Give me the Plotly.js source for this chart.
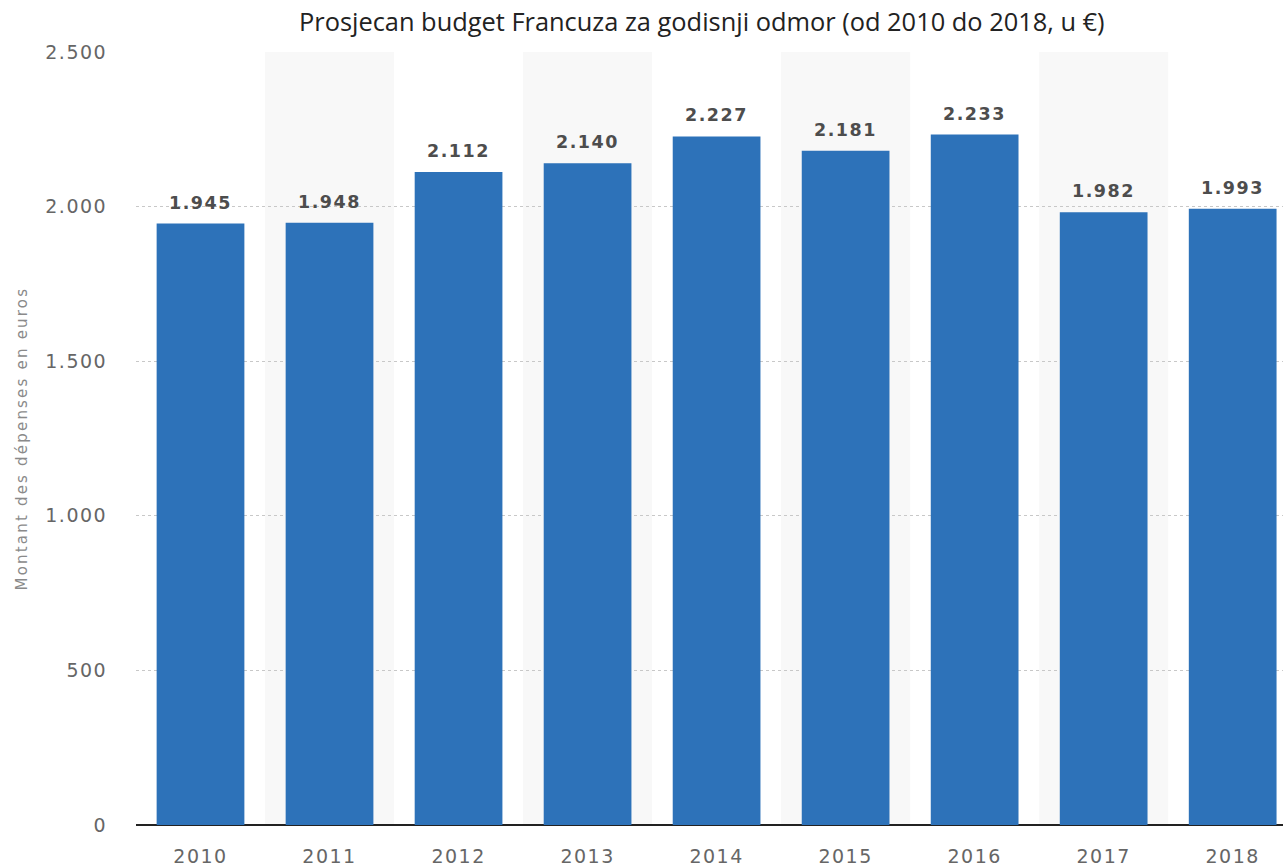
<!DOCTYPE html>
<html>
<head>
<meta charset="utf-8">
<script src="https://cdn.plot.ly/plotly-3.0.1.min.js"></script>
<style>
html,body{margin:0;padding:0;background:#fff;}
#chart{width:1283px;height:868px;}
.xtick text, .ytick text{letter-spacing:1.5px;}
text.annotation-text{letter-spacing:1.5px;}
text.annotation-text[data-unformatted^="Montant"]{letter-spacing:2.2px;}
</style>
</head>
<body>
<div id="chart"></div>
<script>
const years = ['2010','2011','2012','2013','2014','2015','2016','2017','2018'];
const budget = [1945, 1948, 2112, 2140, 2227, 2181, 2233, 1982, 1993];
const chartTitle = 'Prosjecan budget Francuza za godisnji odmor (od 2010 do 2018, u €)';
const yTitle = 'Montant des dépenses en euros';
const yTicks = [0, 500, 1000, 1500, 2000, 2500];

function fmt(v){ return String(v).replace(/\B(?=(\d{3})+(?!\d))/g, '.'); }

const FONT = 'DejaVu Sans, sans-serif';

const shapes = [];
years.forEach((y, i) => {
  if (i % 2 === 1) {
    shapes.push({type:'rect', xref:'x', yref:'y', x0:i-0.5, x1:i+0.5, y0:0, y1:2500,
      fillcolor:'#f8f8f8', line:{width:0}, layer:'below'});
  }
});

const annotations = years.map((y, i) => ({
  x: i, y: budget[i], xref:'x', yref:'y', text: fmt(budget[i]),
  showarrow:false, yanchor:'bottom', yshift:9,
  font:{family:FONT, size:17.5, color:'#4d4d4d', weight:700}
}));
annotations.push({
  xref:'paper', yref:'paper', x:0, y:0.5, xanchor:'center', yanchor:'middle', xshift:-115,
  text:yTitle, textangle:-90, showarrow:false,
  font:{family:FONT, size:15, color:'#8a8a8a'}
});

const trace = {
  type:'bar', x: years.map((_, i) => i), y: budget,
  marker:{color:'#2d72b9'}, width:0.68, hoverinfo:'none'
};

const layout = {
  width:1283, height:868,
  margin:{l:136, r:0, t:52, b:43},
  paper_bgcolor:'#fff', plot_bgcolor:'rgba(0,0,0,0)',
  showlegend:false,
  title:{text:chartTitle, xref:'container', x:0.547, xanchor:'center', yref:'container', y:0.975, yanchor:'middle',
    font:{family:'Open Sans, sans-serif', size:25.4, color:'#222'}},
  xaxis:{range:[-0.5, 8.39], tickmode:'array', tickvals: years.map((_, i) => i), ticktext: years,
    showgrid:false, zeroline:false, showline:false, ticks:'outside', ticklen:14, tickcolor:'rgba(0,0,0,0)',
    tickfont:{family:FONT, size:19, color:'#666'}, fixedrange:true},
  yaxis:{range:[0,2500], tickmode:'array', tickvals:yTicks, ticktext:yTicks.map(fmt),
    showgrid:true, gridcolor:'#c8c8c8', griddash:'dot', gridwidth:1,
    zeroline:true, zerolinecolor:'#222', zerolinewidth:2, showline:false,
    ticks:'outside', ticklen:24, tickcolor:'rgba(0,0,0,0)',
    tickfont:{family:FONT, size:19, color:'#666'},
    fixedrange:true},
  shapes: shapes,
  annotations: annotations
};

Plotly.newPlot('chart', [trace], layout, {displayModeBar:false, staticPlot:true});
</script>
</body>
</html>
